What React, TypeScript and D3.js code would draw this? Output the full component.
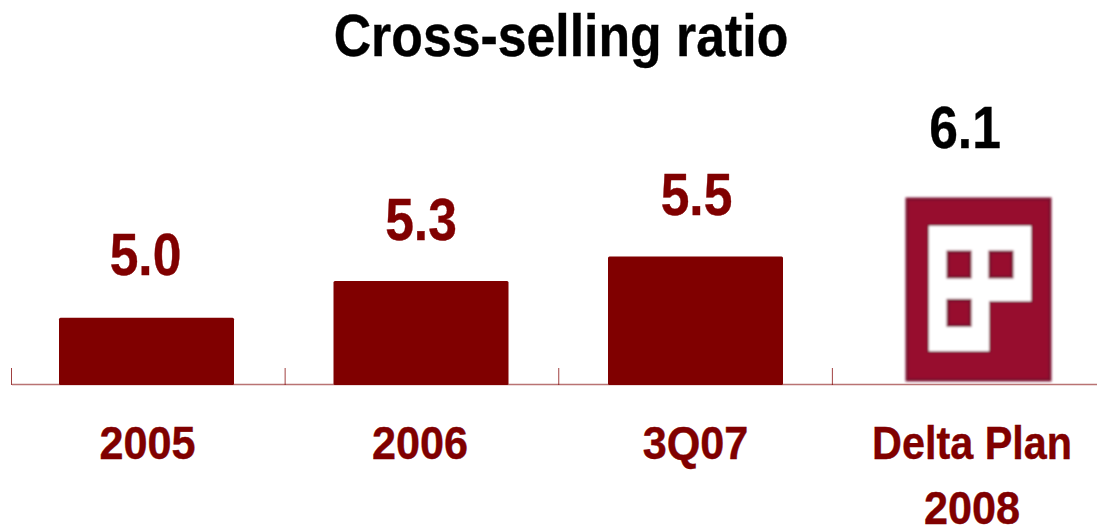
import React from "react";
import * as d3 from "d3";

const categories = ["2005", "2006", "3Q07", "Delta Plan 2008"];
const values = [5.0, 5.3, 5.5, 6.1];
const valueLabels = ["5.0", "5.3", "5.5", "6.1"];
const categoryLines = [["2005"], ["2006"], ["3Q07"], ["Delta Plan", "2008"]];
const chartTitle = "Cross-selling ratio";

const W = 1097;
const H = 526;
const RED = "#800000";
const LOGO_RED = "#970a2e";
const LOGO_EDGE = "#7a1230";
const FONT = "'Liberation Sans', Arial, sans-serif";

// Ticks sit on the band edges; bars are centred on a slightly wider step.
const tickX = d3.scaleBand<string>().domain(categories).range([11.5, 1106]).padding(0);
const barX = d3.scaleBand<string>().domain(categories).range([9.25, 1107.25]).padding(0);
const y = d3.scaleLinear().domain([4.45, 6.1]).range([385, 183]);
const BAR_W = 175;

// Horizontally condensed bold text, anchored at its centre.
function Narrow({ cx, base, size, squeeze, fill, children }: { cx: number; base: number; size: number; squeeze: number; fill: string; children: React.ReactNode }) {
  return (
    <text transform={`translate(${cx},${base}) scale(${squeeze},1)`} textAnchor="middle" fontFamily={FONT} fontWeight={700} fontSize={size} fill={fill} stroke={fill} strokeWidth={0.4}>
      {children}
    </text>
  );
}

// Building emblem standing in for the plan column, in unit coordinates.
function Emblem({ cx, top, bottom }: { cx: number; top: number; bottom: number }) {
  const w = 143;
  const h = bottom - top;
  const sx = d3.scaleLinear().domain([0, 1]).range([cx - w / 2, cx + w / 2]);
  const sy = d3.scaleLinear().domain([0, 1]).range([top, bottom]);
  const inner = [
    [0.147, 0.144],
    [0.874, 0.144],
    [0.874, 0.569],
    [0.58, 0.569],
    [0.58, 0.845],
    [0.147, 0.845],
  ];
  const windows = [
    [0.287, 0.293],
    [0.58, 0.293],
    [0.287, 0.56],
  ];
  return (
    <g filter="url(#soft)">
      <rect x={sx(0)} y={sy(0)} width={w} height={h} fill={LOGO_RED} stroke={LOGO_EDGE} strokeWidth={3} />
      <path d={d3.line()(inner.map(([a, b]) => [sx(a), sy(b)] as [number, number])) + "Z"} fill="#fff" stroke={LOGO_EDGE} strokeWidth={1.5} />
      {windows.map(([a, b], i) => (
        <rect key={i} x={sx(a)} y={sy(b)} width={sx(0.154) - sx(0)} height={sy(0.138) - sy(0)} fill={LOGO_RED} stroke={LOGO_EDGE} strokeWidth={3} />
      ))}
    </g>
  );
}

export default function App() {
  const center = (c: string) => barX(c)! + barX.bandwidth() / 2;
  const labelShift = [-1, 0, 1, -5];
  const labelGap = [43, 41, 41, 0];
  const nameShift = [1, -1, 0, 2];
  return (
    <svg width={W} height={H} viewBox={`0 0 ${W} ${H}`} style={{ position: "absolute", left: 0, top: 0, background: "#fff" }}>
      <defs>
        <filter id="soft" x="-5%" y="-5%" width="110%" height="110%">
          <feGaussianBlur stdDeviation="0.9" />
        </filter>
      </defs>
      <Narrow cx={561} base={56} size={60} squeeze={0.863} fill="#000">
        {chartTitle}
      </Narrow>

      {/* axis line and ticks at the band edges */}
      <line x1={12} x2={W} y1={y(4.45) - 0.5} y2={y(4.45) - 0.5} stroke={RED} strokeOpacity={0.55} strokeWidth={1.5} />
      {categories.map((c) => (
        <line key={c} x1={tickX(c)!} x2={tickX(c)!} y1={368} y2={385} stroke={RED} strokeOpacity={0.75} strokeWidth={1} />
      ))}

      {categories.slice(0, 3).map((c, i) => (
        <rect key={c} x={center(c) - BAR_W / 2} y={y(values[i])} width={BAR_W} height={y(4.45) - y(values[i])} rx={1.5} fill={RED} />
      ))}
      <Emblem cx={978.5} top={199} bottom={380} />

      {categories.map((c, i) => {
        const last = i === categories.length - 1;
        return (
          <Narrow key={c} cx={center(c) + labelShift[i]} base={last ? 148 : y(values[i]) - labelGap[i]} size={60} squeeze={0.86} fill={last ? "#000" : RED}>
            {valueLabels[i]}
          </Narrow>
        );
      })}

      {categories.map((c, i) =>
        categoryLines[i].map((line, j) => (
          <Narrow key={line} cx={center(c) + nameShift[i]} base={459 + j * 64.5} size={47} squeeze={line === "Delta Plan" ? 0.88 : 0.92} fill={RED}>
            {line}
          </Narrow>
        ))
      )}
    </svg>
  );
}
